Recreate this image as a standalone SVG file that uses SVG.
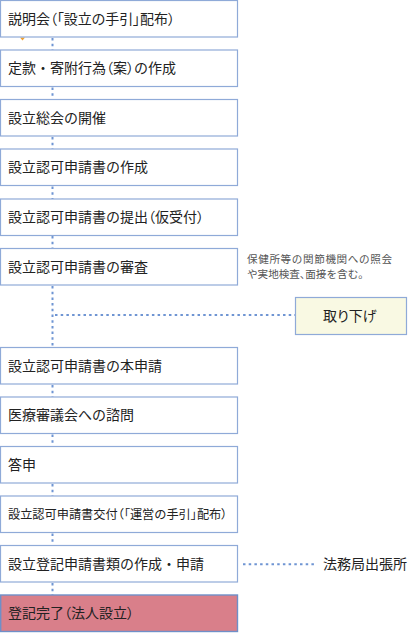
<svg xmlns="http://www.w3.org/2000/svg" width="408" height="633" viewBox="0 0 408 633">
<style>
.box{fill:#fff;stroke:#8faad8;stroke-width:1.2}
.done{fill:#d97f8a;stroke:#6f8fc8;stroke-width:1.4}
.side{fill:#f9f9e3;stroke:#8faad8;stroke-width:1.2}
.t{font-family:"Noto Sans CJK JP","Noto Sans CJK SC",sans-serif;font-size:14px;fill:#222}
.p{font-feature-settings:"palt" 1}
.s{font-size:12.2px}
.note{font-family:"Noto Sans CJK JP",sans-serif;font-size:10.6px;fill:#555}
.dot{fill:none;stroke:#6f95d3;stroke-width:2;stroke-dasharray:2.5 3.2}
</style>
<rect width="408" height="633" fill="#fff"/>
<g id="connectors">
<line class="dot" x1="52.5" y1="38" x2="52.5" y2="50"/>
<line class="dot" x1="52.5" y1="87.5" x2="52.5" y2="99.5"/>
<line class="dot" x1="52.5" y1="137" x2="52.5" y2="149"/>
<line class="dot" x1="52.5" y1="186.5" x2="52.5" y2="199"/>
<line class="dot" x1="52.5" y1="236" x2="52.5" y2="248.5"/>
<line class="dot" x1="52.5" y1="286" x2="52.5" y2="347.5"/>
<line class="dot" x1="55" y1="315" x2="295" y2="315"/>
<line class="dot" x1="52.5" y1="385" x2="52.5" y2="397"/>
<line class="dot" x1="52.5" y1="434.5" x2="52.5" y2="446.5"/>
<line class="dot" x1="52.5" y1="484" x2="52.5" y2="496"/>
<line class="dot" x1="52.5" y1="533.5" x2="52.5" y2="545.5"/>
<line class="dot" x1="52.5" y1="583" x2="52.5" y2="595"/>
<line class="dot" x1="243" y1="564.3" x2="316" y2="564.3"/>
<path d="M20 37.5 L25 37.5 L22.5 40.5 Z" fill="#f0a030"/>
</g>
<g id="n1"><rect class="box" x="0.5" y="0.5" width="237" height="36.5"/><text class="t p" x="8" y="23.5" textLength="167">説明会（「設立の手引」配布）</text></g>
<g id="n2"><rect class="box" x="0.5" y="50" width="237" height="36.5"/><text class="t" x="8" y="73">定款・寄附行為<tspan class="p">（</tspan>案<tspan class="p">）</tspan>の作成</text></g>
<g id="n3"><rect class="box" x="0.5" y="99.5" width="237" height="36.5"/><text class="t" x="8" y="122.5">設立総会の開催</text></g>
<g id="n4"><rect class="box" x="0.5" y="149" width="237" height="36.5"/><text class="t" x="8" y="172">設立認可申請書の作成</text></g>
<g id="n5"><rect class="box" x="0.5" y="199" width="237" height="36.5"/><text class="t" x="8" y="222">設立認可申請書の提出<tspan class="p">（</tspan>仮受付<tspan class="p">）</tspan></text></g>
<g id="n6"><rect class="box" x="0.5" y="248.5" width="237" height="36.5"/><text class="t" x="8" y="271.5">設立認可申請書の審査</text>
<text class="note" x="247" y="263" textLength="145">保健所等の関節機関への照会</text><text class="note" x="247" y="277.5">や実地検査<tspan class="p">、</tspan>面接を含む<tspan class="p">。</tspan></text></g>
<g id="n-withdraw"><rect class="side" x="295.5" y="297.5" width="111" height="37"/><text class="t p" x="323" y="321">取り下げ</text></g>
<g id="n7"><rect class="box" x="0.5" y="347.5" width="237" height="36.5"/><text class="t" x="8" y="370.5">設立認可申請書の本申請</text></g>
<g id="n8"><rect class="box" x="0.5" y="397" width="237" height="36.5"/><text class="t" x="8" y="420">医療審議会への諮問</text></g>
<g id="n9"><rect class="box" x="0.5" y="446.5" width="237" height="36.5"/><text class="t" x="8" y="469.5">答申</text></g>
<g id="n10"><rect class="box" x="0.5" y="496" width="237" height="36.5"/><text class="t s" x="8" y="519">設立認可申請書交付<tspan class="p">（「</tspan>運営の手引<tspan class="p">」</tspan>配布<tspan class="p">）</tspan></text></g>
<g id="n11"><rect class="box" x="0.5" y="545.5" width="237" height="36.5"/><text class="t" x="8" y="568.5">設立登記申請書類の作成・申請</text>
<text class="t" x="323" y="569">法務局出張所</text></g>
<g id="n12"><rect class="done" x="0.7" y="595" width="236.8" height="36.5"/><text class="t" x="8" y="618">登記完了<tspan class="p">（</tspan>法人設立<tspan class="p">）</tspan></text></g>
</svg>
